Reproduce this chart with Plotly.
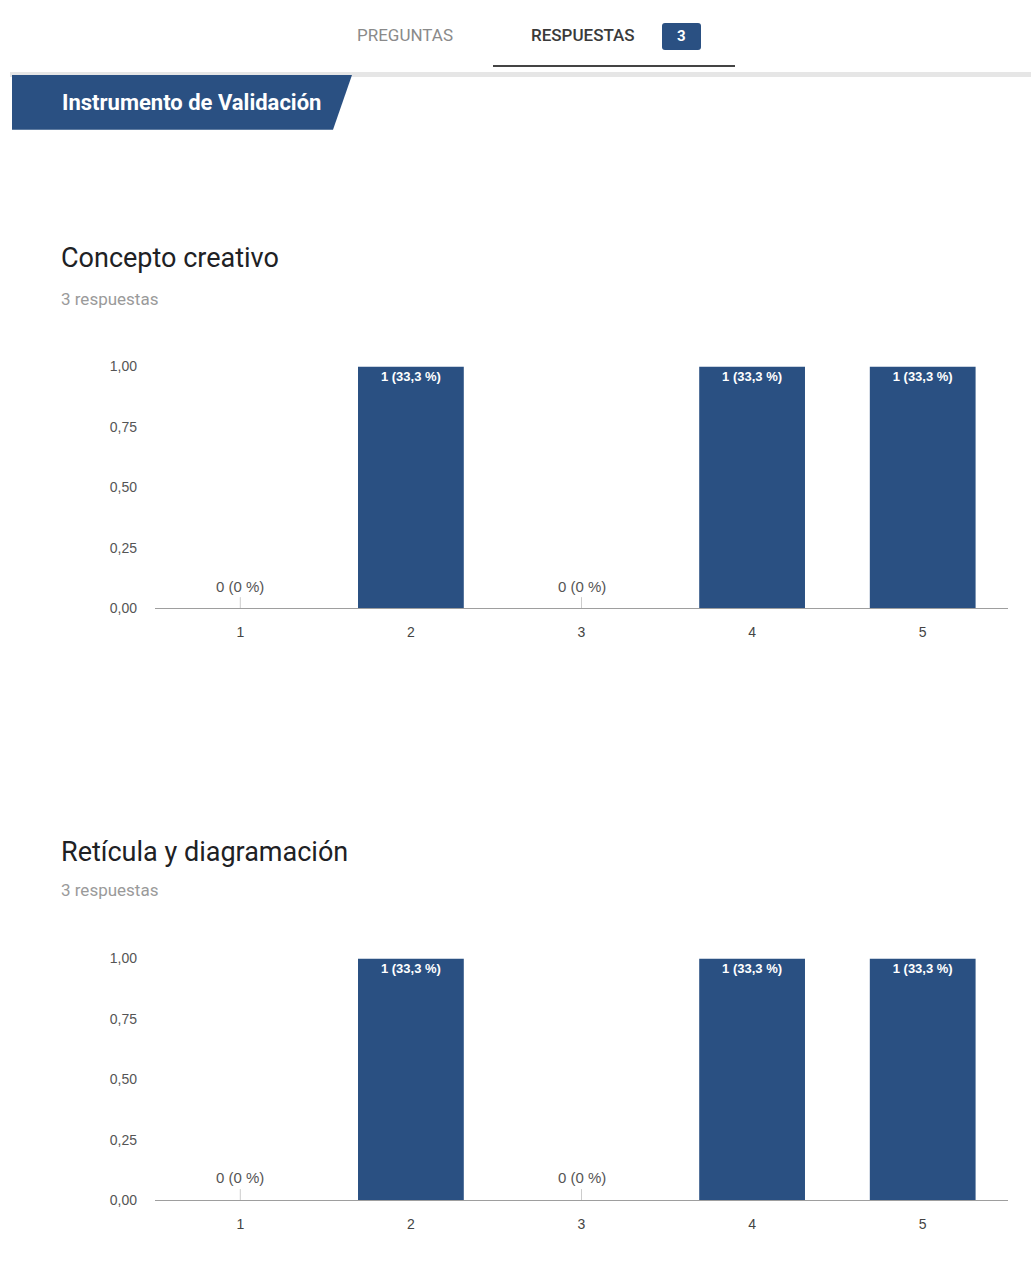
import plotly.graph_objects as go

categories = ["1", "2", "3", "4", "5"]
values_concepto = [0, 1, 0, 1, 1]
values_reticula = [0, 1, 0, 1, 1]
labels_concepto = ["0 (0 %)", "1 (33,3 %)", "0 (0 %)", "1 (33,3 %)", "1 (33,3 %)"]
labels_reticula = ["0 (0 %)", "1 (33,3 %)", "0 (0 %)", "1 (33,3 %)", "1 (33,3 %)"]
titles = ["Concepto creativo", "Retícula y diagramación"]
subtitles = ["3 respuestas", "3 respuestas"]
y_ticks = [0, 0.25, 0.5, 0.75, 1.0]

W, H = 1031, 1280
BAR = "#2a5082"

# vertical correction measured from the rendered page
SY, AY = 0.9892, 6.95


def px(x):
    return x / W


def py(y):
    return 1 - ((y - AY) / SY) / H


fig = go.Figure()

charts = [
    (values_concepto, labels_concepto, "x", "y"),
    (values_reticula, labels_reticula, "x2", "y2"),
]

shapes = []
annotations = []

for vals, labs, xa, ya in charts:
    fig.add_trace(go.Bar(
        x=categories, y=vals, xaxis=xa, yaxis=ya,
        marker=dict(color=BAR, line=dict(width=0)),
        text=[f"<b>{l}</b>" if v > 0 else "" for v, l in zip(vals, labs)],
        textposition="inside", insidetextanchor="end",
        textfont=dict(color="white", size=13, family="Arial"),
        textangle=0, hoverinfo="skip", showlegend=False,
    ))
    for i, (v, l) in enumerate(zip(vals, labs)):
        if v == 0:
            annotations.append(dict(
                x=i, y=0, xref=xa, yref=ya, text=l, showarrow=False,
                xanchor="center", yanchor="middle",
                yshift=22, font=dict(size=15, color="#555", family="Arial"),
            ))
            shapes.append(dict(
                type="line", xref=xa, yref=ya, x0=i, x1=i, y0=0, y1=0.045,
                line=dict(color="#cccccc", width=1),
            ))

axis_x = dict(
    domain=[px(155), px(1008)], showgrid=False, showline=True,
    linecolor="#9e9e9e", linewidth=1, ticks="", ticklabelstandoff=11,
    tickfont=dict(size=14, color="#444", family="Arial"), fixedrange=True,
)
axis_y = dict(
    range=[0, 1], tickvals=y_ticks, tickformat=".2f", showgrid=False,
    zeroline=False, showline=False, ticks="",
    ticklabelstandoff=17,
    tickfont=dict(size=14, color="#555", family="Arial"), fixedrange=True,
)

fig.update_layout(
    width=W, height=H, margin=dict(l=0, r=0, t=0, b=0),
    paper_bgcolor="white", plot_bgcolor="white", separators=",.",
    bargap=0.38,
    xaxis=dict(axis_x, anchor="y"),
    yaxis=dict(axis_y, domain=[py(608), py(366)], anchor="x"),
    xaxis2=dict(axis_x, anchor="y2"),
    yaxis2=dict(axis_y, domain=[py(1201), py(959)], anchor="x2"),
)

# badge with rounded corners
bx0, bx1, by0, by1, r = 662, 701, 22, 49, 3
badge = (f"M {px(bx0 + r)},{py(by0)} L {px(bx1 - r)},{py(by0)} "
         f"Q {px(bx1)},{py(by0)} {px(bx1)},{py(by0 + r)} L {px(bx1)},{py(by1 - r)} "
         f"Q {px(bx1)},{py(by1)} {px(bx1 - r)},{py(by1)} L {px(bx0 + r)},{py(by1)} "
         f"Q {px(bx0)},{py(by1)} {px(bx0)},{py(by1 - r)} L {px(bx0)},{py(by0 + r)} "
         f"Q {px(bx0)},{py(by0)} {px(bx0 + r)},{py(by0)} Z")

# page header
shapes += [
    dict(type="rect", xref="paper", yref="paper", x0=px(10), x1=1, y0=py(76), y1=py(71),
         fillcolor="#e6e6e6", line=dict(width=0), layer="below"),
    dict(type="line", xref="paper", yref="paper", x0=px(493), x1=px(735), y0=py(65), y1=py(65),
         line=dict(color="#444444", width=2)),
    dict(type="path", xref="paper", yref="paper", path=badge,
         fillcolor=BAR, line=dict(width=0)),
    dict(type="path", xref="paper", yref="paper",
         path=f"M {px(12)},{py(74)} L {px(352)},{py(74)} L {px(333)},{py(129)} L {px(12)},{py(129)} Z",
         fillcolor=BAR, line=dict(width=0)),
]


def note(x, y, text, size, color, family="Roboto", xanchor="center", weight="normal"):
    return dict(x=px(x), y=py(y), xref="paper", yref="paper", text=text, showarrow=False,
                xanchor=xanchor, yanchor="middle",
                font=dict(size=size, color=color, family=family, weight=weight))


annotations += [
    note(405, 34, "PREGUNTAS", 17, "#8a8a8a"),
    note(583, 34, "RESPUESTAS", 17, "#3a3a3a", weight=500),
    note(681, 35, "<b>3</b>", 15, "white"),
    note(60, 102, "<b>Instrumento de Validación</b>", 22, "white",
         family="Liberation Sans Narrow, Roboto", xanchor="left"),
]

for t, s, ty, sy in zip(titles, subtitles, [257, 852], [298, 890]):
    annotations.append(note(59, ty, t, 27, "#202124", xanchor="left"))
    annotations.append(note(59, sy, s, 17, "#9a9a9a", xanchor="left"))

fig.update_layout(shapes=shapes, annotations=annotations)

fig.write_html("out.html")
